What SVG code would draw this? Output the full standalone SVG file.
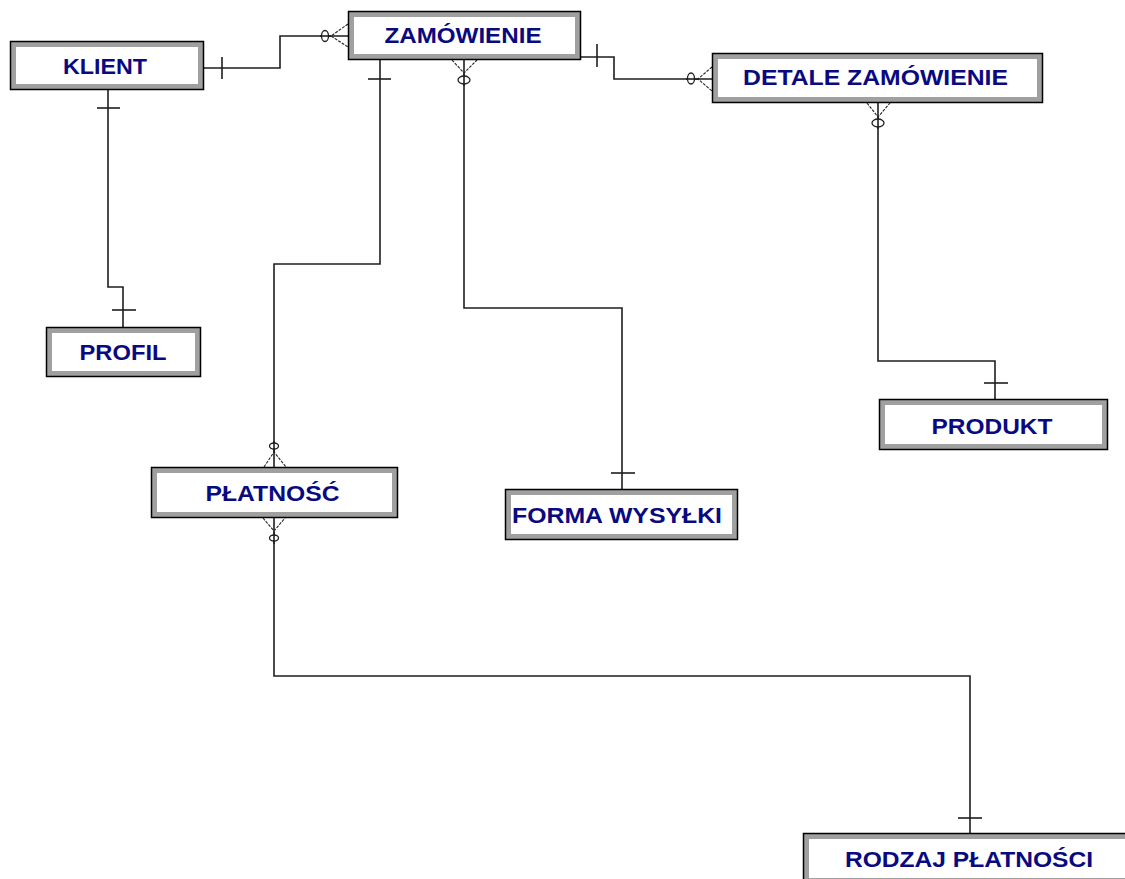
<svg xmlns="http://www.w3.org/2000/svg" width="1125" height="879" viewBox="0 0 1125 879">
<style>
.frame{fill:#a0a0a0;stroke:#000;stroke-width:1.5}
.inner{fill:#fff;stroke:none}
.lbl{font-family:"Liberation Sans",Arial,sans-serif;font-size:22px;font-weight:bold;fill:#0a0a80;text-anchor:middle}
.ln{fill:none;stroke:#1e1e1e;stroke-width:1.6}
.bar{fill:none;stroke:#1e1e1e;stroke-width:1.6}
.crow{fill:none;stroke:#222;stroke-width:1.1;stroke-dasharray:3 1.2}
.ov{fill:#fff;stroke:#1e1e1e;stroke-width:1.3}
</style>
<rect width="1125" height="879" fill="#fff"/>
<g id="connectors">
  <!-- KLIENT - ZAMOWIENIE -->
  <path class="ln" d="M204,68 H280 V36 H348"/>
  <line class="bar" x1="222" y1="57" x2="222" y2="79"/>
  <ellipse class="ov" cx="325" cy="36" rx="3.5" ry="5.5"/>
  <line class="ln" x1="320" y1="36" x2="331" y2="36"/>
  <path class="crow" d="M348,24 L331,36 L348,47"/>
  <!-- KLIENT - PROFIL -->
  <path class="ln" d="M108,90 V287 H123 V327"/>
  <line class="bar" x1="97" y1="108" x2="120" y2="108"/>
  <line class="bar" x1="112" y1="310" x2="136" y2="310"/>
  <!-- ZAMOWIENIE - PLATNOSC -->
  <path class="ln" d="M380,60 V264 H274 V467"/>
  <line class="bar" x1="368" y1="79" x2="391" y2="79"/>
  <ellipse class="ov" cx="274" cy="446" rx="4.5" ry="3"/>
  <line class="ln" x1="274" y1="441" x2="274" y2="452"/>
  <path class="crow" d="M264,467 L274,452 L286,467"/>
  <!-- ZAMOWIENIE - FORMA WYSYLKI -->
  <path class="ln" d="M464,60 V308 H622 V489"/>
  <path class="crow" d="M452,60 L464,73 L477,60"/>
  <ellipse class="ov" cx="464" cy="80" rx="6" ry="4"/>
  <line class="ln" x1="464" y1="74" x2="464" y2="86"/>
  <line class="bar" x1="611" y1="473" x2="635" y2="473"/>
  <!-- ZAMOWIENIE - DETALE -->
  <path class="ln" d="M581,57 H614 V79 H712"/>
  <line class="bar" x1="597" y1="44" x2="597" y2="67"/>
  <ellipse class="ov" cx="691" cy="78.5" rx="3.5" ry="5.5"/>
  <line class="ln" x1="686" y1="79" x2="698" y2="79"/>
  <path class="crow" d="M712,67 L698,79 L712,91"/>
  <!-- DETALE - PRODUKT -->
  <path class="ln" d="M878,103 V361 H995 V399"/>
  <path class="crow" d="M867,103 L878,117 L890,103"/>
  <ellipse class="ov" cx="878" cy="123" rx="6" ry="4"/>
  <line class="ln" x1="878" y1="117" x2="878" y2="129"/>
  <line class="bar" x1="984" y1="383" x2="1008" y2="383"/>
  <!-- PLATNOSC - RODZAJ PLATNOSCI -->
  <path class="ln" d="M274,518 V676 H970 V833"/>
  <path class="crow" d="M263,518 L274,531 L285,518"/>
  <ellipse class="ov" cx="274" cy="538" rx="4.5" ry="3"/>
  <line class="ln" x1="274" y1="532" x2="274" y2="544"/>
  <line class="bar" x1="958" y1="818" x2="982" y2="818"/>
</g>
<g id="klient">
  <rect class="frame" x="10.5" y="41.5" width="193" height="48"/>
  <rect class="inner" x="16" y="47" width="182" height="37"/>
  <text class="lbl" x="105" y="74" textLength="84" lengthAdjust="spacingAndGlyphs">KLIENT</text>
</g>
<g id="zamowienie">
  <rect class="frame" x="348.5" y="11.5" width="232" height="48"/>
  <rect class="inner" x="354" y="17" width="221" height="37"/>
  <text class="lbl" x="463" y="43" textLength="157" lengthAdjust="spacingAndGlyphs">ZAMÓWIENIE</text>
</g>
<g id="detale">
  <rect class="frame" x="712.5" y="53.5" width="330" height="49"/>
  <rect class="inner" x="718" y="59" width="319" height="38"/>
  <text class="lbl" x="875.5" y="85" textLength="265" lengthAdjust="spacingAndGlyphs">DETALE ZAMÓWIENIE</text>
</g>
<g id="profil">
  <rect class="frame" x="46.5" y="327.5" width="154" height="49"/>
  <rect class="inner" x="52" y="333" width="143" height="38"/>
  <text class="lbl" x="123" y="360" textLength="87" lengthAdjust="spacingAndGlyphs">PROFIL</text>
</g>
<g id="platnosc">
  <rect class="frame" x="151.5" y="467.5" width="246" height="50"/>
  <rect class="inner" x="157" y="473" width="235" height="39"/>
  <text class="lbl" x="272.5" y="501" textLength="134" lengthAdjust="spacingAndGlyphs">PŁATNOŚĆ</text>
</g>
<g id="forma-wysylki">
  <rect class="frame" x="505.5" y="489.5" width="232" height="50"/>
  <rect class="inner" x="511" y="495" width="221" height="39"/>
  <text class="lbl" x="617" y="523" textLength="210" lengthAdjust="spacingAndGlyphs">FORMA WYSYŁKI</text>
</g>
<g id="produkt">
  <rect class="frame" x="879.5" y="399.5" width="228" height="50"/>
  <rect class="inner" x="885" y="405" width="217" height="39"/>
  <text class="lbl" x="992" y="434" textLength="121" lengthAdjust="spacingAndGlyphs">PRODUKT</text>
</g>
<g id="rodzaj-platnosci">
  <rect class="frame" x="803.5" y="833.5" width="332" height="50"/>
  <rect class="inner" x="809" y="839" width="321" height="39"/>
  <text class="lbl" x="969" y="867" textLength="248" lengthAdjust="spacingAndGlyphs">RODZAJ PŁATNOŚCI</text>
</g>
</svg>
